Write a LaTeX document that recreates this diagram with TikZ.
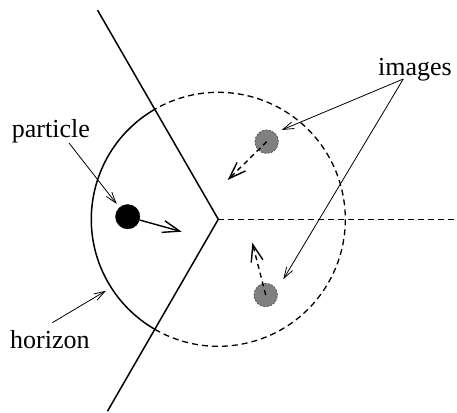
\documentclass[tikz,border=0pt]{standalone}
\usepackage{fontspec}
\setmainfont{Liberation Serif}
\usetikzlibrary{arrows.meta}

\begin{document}
\begin{tikzpicture}[x=1pt, y=1pt]

    \useasboundingbox (-218.3,-192.7) rectangle (238.7,219.3);

    \tikzset{particlestyle/.style={draw,shape=circle,fill=black,minimum size=24.4pt,inner sep=0pt}}
    \tikzset{imagestyle/.style={draw=black!70,dash pattern=on 2pt off 1.5pt,shape=circle,fill=gray,minimum size=23.5pt,inner sep=0pt,line width=0.7pt}}
    \tikzset{labelstyle/.style={anchor=base west,inner sep=0pt,font=\fontsize{26}{30}\selectfont}}
    \tikzset{notearrow/.style={line width=0.8pt,-{Straight Barb[length=11pt,width=7pt]}}}
    \tikzset{movearrow/.style={line width=1.4pt,-{Straight Barb[length=17pt,width=12pt]}}}
    \tikzset{dashline/.style={line width=1.3pt,dash pattern=on 6pt off 4pt}}

    \coordinate (v) at (0,0);
    \coordinate (w1) at (120:241.5);
    \coordinate (w2) at (240:221.6);
    \coordinate (w3) at (238.7,0);
    \coordinate (h1) at (120:127);
    \coordinate (h2) at (240:127);

    \node[particlestyle] (p) at (-90.6,2.6) {};
    \node[imagestyle] (i1) at (48.4,77.6) {};
    \node[imagestyle] (i2) at (47.4,-75.7) {};

    \coordinate (pv) at (-36.6,-12.4);
    \coordinate (i1v) at (9.4,39.3);
    \coordinate (i2v) at (34,-23.4);

    \draw[line width=1.5pt] (w1) -- (v) -- (w2);
    \draw[dashline] (v) -- (w3);
    \draw[line width=1.5pt] (h1) arc[start angle=120, end angle=240, radius=127];
    \draw[dashline] (h2) arc[start angle=240, end angle=480, radius=127];

    \draw[movearrow] (p) -- (pv);
    \draw[movearrow, dash pattern=on 5pt off 4pt] (i1.center) -- (i1v);
    \draw[movearrow, dash pattern=on 5pt off 4pt] (i2.center) -- (i2v);

    % Etiquetas y sus flechas.
    \node[labelstyle] (lp) at (-206.6,81.3) {particle};
    \node[labelstyle] (li) at (159.7,143.3) {images};
    \node[labelstyle] (lh) at (-208.3,-128.7) {horizon};

    \coordinate (a1) at (-149.3,76.3);
    \coordinate (a2) at (185,140.3);
    \coordinate (a3) at (-166,-103.4);
    \coordinate (t1) at (-101.6,15.3);
    \coordinate (t2) at (63.4,89.3);
    \coordinate (t3) at (65,-60);
    \coordinate (t4) at (-112.3,-71.4);

    \draw[notearrow] (a1) -- (t1);
    \draw[notearrow] (a2) -- (t2);
    \draw[notearrow] (a2) -- (t3);
    \draw[notearrow] (a3) -- (t4);

\end{tikzpicture}
\end{document}
